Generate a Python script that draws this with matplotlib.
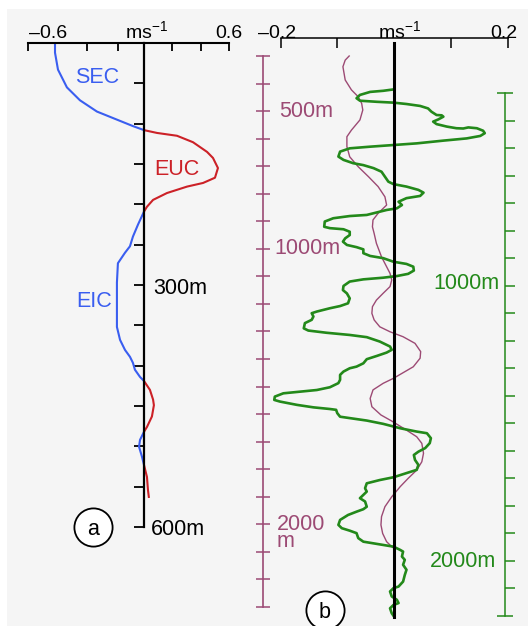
import matplotlib
matplotlib.use("Agg")
import matplotlib.pyplot as plt
from matplotlib.patches import Rectangle

plt.rcParams['font.family'] = ['Liberation Sans', 'DejaVu Sans']
plt.rcParams['mathtext.fontset'] = 'custom'
plt.rcParams['mathtext.rm'] = 'Liberation Sans'
plt.rcParams['mathtext.it'] = 'Liberation Sans:italic'

# ---------------- data ----------------
# (a) upper-ocean equatorial current profile: velocity (m/s) vs depth (m)
sec_v = [-0.628, -0.628, -0.607, -0.544, -0.452, -0.332, -0.191, -0.078, 0.0]
sec_d = [0, 12, 33, 55, 71, 85, 95, 103, 108]

euc_v = [0.0, 0.092, 0.233, 0.346, 0.445, 0.487, 0.522, 0.501, 0.417, 0.304,
         0.162, 0.064, 0.021, 0.0]
euc_d = [108, 111.5, 115, 123, 135, 142.5, 155, 167, 173.5, 178, 186, 194.5, 203, 209]

eic_v = [0.0, -0.042, -0.078, -0.099, -0.134, -0.184, -0.191, -0.191, -0.191,
         -0.169, -0.134, -0.099, -0.078, -0.064, -0.028, 0.0]
eic_d = [209, 225, 240, 252, 260, 273, 297, 318.5, 352, 368, 380.5, 389, 396.5,
         405, 414, 419]

east2_v = [0.0, 0.042, 0.064, 0.070, 0.056, 0.021, 0.0]
east2_d = [419, 430, 442, 449, 463, 476, 482]

west2_v = [0.0, -0.028, -0.035, -0.014, 0.0]
west2_d = [482, 492, 500.5, 513, 523]

east3_v = [0.0, 0.021, 0.028, 0.035]
east3_d = [523, 538, 554, 564]

# (b) deep profiles: velocity (m/s) vs depth (m)
maroon_v = [-0.079, -0.086, -0.090, -0.086, -0.075, -0.063, -0.057, -0.055, -0.060, -0.075,
            -0.083, -0.083, -0.078, -0.063, -0.045, -0.028, -0.016, -0.013, -0.028, -0.037,
            -0.038, -0.035, -0.031, -0.022, -0.013, -0.007, -0.004, -0.007, -0.019, -0.031,
            -0.038, -0.039, -0.035, -0.025, -0.007, 0.016, 0.037, 0.047, 0.046, 0.034,
            0.014, -0.001, -0.019, -0.037, -0.042, -0.039, -0.023, -0.004, 0.022, 0.040,
            0.049, 0.052, 0.049, 0.040, 0.025, 0.011, -0.004, -0.016, -0.022, -0.023,
            -0.020, -0.013, -0.004, 0.0]
maroon_d = [300, 315, 339, 387, 423, 448, 472, 496, 532, 569,
            593, 629, 666, 702, 738, 774, 811, 841, 871, 895,
            920, 944, 980, 1029, 1065, 1089, 1113, 1137, 1161, 1186,
            1210, 1234, 1258, 1283, 1301, 1319, 1343, 1373, 1397, 1428,
            1452, 1470, 1488, 1512, 1543, 1573, 1603, 1625, 1658, 1682,
            1706, 1742, 1773, 1803, 1833, 1863, 1900, 1936, 1972, 2002,
            2033, 2063, 2081, 2087]

green_v = [-0.001, -0.019, -0.042, -0.060, -0.066, -0.060, -0.030, -0.001, 0.022, 0.046,
           0.060, 0.066, 0.075, 0.084, 0.087, 0.078, 0.069, 0.075, 0.093, 0.110,
           0.122, 0.131, 0.146, 0.157, 0.160, 0.152, 0.128, 0.087, 0.040, -0.001,
           -0.042, -0.078, -0.095, -0.098, -0.089, -0.072, -0.054, -0.036, -0.022, -0.016,
           -0.010, -0.001, 0.022, 0.043, 0.052, 0.046, 0.022, 0.008, 0.014, 0.005,
           -0.013, -0.048, -0.078, -0.107, -0.122, -0.123, -0.113, -0.089, -0.078, -0.078,
           -0.086, -0.090, -0.083, -0.066, -0.054, -0.054, -0.042, -0.019, -0.001, 0.022,
           0.034, 0.035, 0.025, 0.005, -0.019, -0.054, -0.078, -0.089, -0.090, -0.083,
           -0.078, -0.081, -0.095, -0.113, -0.136, -0.145, -0.142, -0.145, -0.157, -0.159,
           -0.151, -0.119, -0.078, -0.048, -0.025, -0.007, -0.004, -0.013, -0.030, -0.048,
           -0.054, -0.066, -0.078, -0.089, -0.095, -0.095, -0.098, -0.113, -0.136, -0.166,
           -0.195, -0.210, -0.211, -0.201, -0.171, -0.142, -0.113, -0.102, -0.100, -0.095,
           -0.078, -0.048, -0.019, 0.011, 0.040, 0.058, 0.065, 0.063, 0.055, 0.043,
           0.035, 0.037, 0.043, 0.040, 0.022, -0.001, -0.025, -0.048, -0.051, -0.048,
           -0.054, -0.060, -0.051, -0.048, -0.054, -0.066, -0.081, -0.095, -0.098, -0.092,
           -0.078, -0.066, -0.063, -0.054, -0.036, -0.019, -0.001, 0.011, 0.016, 0.014,
           0.019, 0.016, 0.022, 0.019, 0.016, 0.008, -0.001, -0.007, -0.004, 0.005,
           0.008, -0.001, -0.007, -0.004, 0.0]
green_d = [287, 292, 296, 307, 319, 328, 332, 335, 340, 347,
           356, 368, 380, 381, 386, 396, 404, 413, 422, 428,
           429, 425, 428, 437, 446, 456, 465, 473, 483, 489,
           495, 501, 513, 531, 543, 555, 562, 573, 586, 604,
           622, 631, 640, 652, 662, 674, 682, 695, 707, 719,
           725, 743, 747, 755, 767, 786, 791, 795, 804, 816,
           828, 840, 852, 860, 868, 882, 892, 900, 913, 921,
           931, 945, 957, 965, 971, 977, 985, 1001, 1016, 1028,
           1046, 1064, 1074, 1082, 1094, 1100, 1112, 1124, 1136, 1155,
           1163, 1171, 1179, 1187, 1203, 1221, 1233, 1243, 1255, 1267,
           1282, 1294, 1300, 1312, 1324, 1342, 1354, 1369, 1379, 1385,
           1391, 1403, 1415, 1421, 1433, 1442, 1448, 1451, 1463, 1476,
           1481, 1490, 1502, 1518, 1530, 1536, 1554, 1572, 1590, 1603,
           1615, 1633, 1651, 1669, 1681, 1696, 1706, 1718, 1736, 1748,
           1760, 1772, 1784, 1803, 1812, 1821, 1833, 1851, 1869, 1881,
           1890, 1899, 1917, 1930, 1936, 1942, 1948, 1960, 1966, 1984,
           1996, 2014, 2032, 2051, 2075, 2093, 2099, 2111, 2129, 2141,
           2153, 2160, 2172, 2190, 2202]

a_xticks = [-0.82, -0.40, -0.18, 0.2, 0.4, 0.6]
a_yticks = list(range(0, 601, 50))
b_xticks = [-0.2, -0.1, 0.1, 0.2]
maroon_ticks = list(range(300, 2301, 100))
green_ticks = list(range(400, 2101, 100))
green_caps = [300, 2200]

# ---------------- styling ----------------
BLUE = '#3a5ef0'
RED = '#cc2127'
MAROON = '#9c4a74'
GREEN = '#23891a'
BG = '#f5f5f5'
LABEL_SIZE = 15.5
TICK_SIZE = 14

W, H = 528, 626
fig = plt.figure(figsize=(W / 100, H / 100), dpi=100)
fig.patch.set_facecolor('white')
fig.patches.append(Rectangle((7 / W, 0), 1 - 7 / W, 1 - 9 / H,
                             transform=fig.transFigure, fc=BG, ec='none', zorder=-10))


def axes_px(x0, y0, x1, y1):
    """Add an axes whose box spans the given pixel rectangle (origin top-left)."""
    ax = fig.add_axes([x0 / W, 1 - y1 / H, (x1 - x0) / W, (y1 - y0) / H])
    ax.patch.set_visible(False)
    return ax


def label(px, py, s, color='black', size=LABEL_SIZE, ha='left', va='baseline', **kw):
    fig.text(px / W, 1 - py / H, s, color=color, fontsize=size, ha=ha, va=va, **kw)


# ---------------- panel (a) ----------------
ax_a = axes_px(27.8, 43, 229, 527)
ax_a.set_xlim(-0.82, 0.6)
ax_a.set_ylim(600, 0)
for sp in ('right', 'bottom'):
    ax_a.spines[sp].set_visible(False)
ax_a.spines['left'].set_position(('data', 0))
ax_a.spines['left'].set_linewidth(1.6)
ax_a.spines['top'].set_linewidth(1.5)
ax_a.xaxis.tick_top()
ax_a.set_xticks(a_xticks)
ax_a.set_yticks(a_yticks)
ax_a.tick_params(axis='x', direction='in', length=6, width=1.3, labeltop=False, labelbottom=False)
ax_a.tick_params(axis='y', direction='out', length=7, width=1.3, labelleft=False)

for v, d, c in [(sec_v, sec_d, BLUE), (euc_v, euc_d, RED), (eic_v, eic_d, BLUE),
                (east2_v, east2_d, RED), (west2_v, west2_d, BLUE), (east3_v, east3_d, RED)]:
    ax_a.plot(v, d, color=c, lw=1.5, clip_on=False, solid_capstyle='butt')

label(97, 82.7, 'SEC', BLUE, ha='center')
label(176.7, 175, 'EUC', RED, ha='center')
label(94, 307.3, 'EIC', BLUE, ha='center')
label(153, 294, '300m')
label(151, 535, '600m')
label(48, 38.3, '\u20130.6', size=TICK_SIZE, ha='center')
label(229, 38.3, '0.6', size=TICK_SIZE, ha='center')
label(147, 38.3, r'ms$^{\mathregular{-1}}$', size=TICK_SIZE, ha='center')

# ---------------- panel (b) ----------------
ax_b = axes_px(280.5, 56, 507.5, 607)
ax_b.set_xlim(-0.2, 0.2)
ax_b.set_ylim(2300, 300)
for sp in ('right', 'bottom'):
    ax_b.spines[sp].set_visible(False)
ax_b.spines['top'].set_position(('outward', 13))
ax_b.spines['top'].set_linewidth(1.1)
ax_b.spines['left'].set_position(('outward', 12.5))
ax_b.spines['left'].set_color(MAROON)
ax_b.spines['left'].set_linewidth(1.2)
ax_b.xaxis.tick_top()
ax_b.set_xticks(b_xticks)
ax_b.set_yticks(maroon_ticks)
ax_b.tick_params(axis='x', direction='in', length=7, width=1.1, labeltop=False, labelbottom=False)
ax_b.tick_params(axis='y', direction='inout', length=10, width=1.1, color=MAROON, labelleft=False)

ax_b.plot(maroon_v, maroon_d, color=MAROON, lw=1.0, clip_on=False)

ax_g = axes_px(280.5, 93, 507.5, 616)
ax_g.set_xlim(-0.2, 0.2)
ax_g.set_ylim(2200, 300)
for sp in ('left', 'top', 'bottom'):
    ax_g.spines[sp].set_visible(False)
ax_g.spines['right'].set_position(('outward', -1.5))
ax_g.spines['right'].set_color(GREEN)
ax_g.spines['right'].set_linewidth(1.1)
ax_g.set_xticks([])
ax_g.yaxis.tick_right()
ax_g.set_yticks(green_ticks)
ax_g.set_yticks(green_caps, minor=True)
ax_g.tick_params(axis='y', which='major', direction='out', length=7, width=1.1, color=GREEN,
                 labelright=False, labelleft=False)
ax_g.tick_params(axis='y', which='minor', direction='inout', length=12, width=1.1, color=GREEN,
                 labelright=False, labelleft=False)

ax_g.plot(green_v, green_d, color=GREEN, lw=1.9, clip_on=False, zorder=3,
          solid_joinstyle='round')

# zero-velocity reference line for panel (b), from the velocity axis to the bottom
top_frac = (616 - 43) / (616 - 93)
bot_frac = (616 - 617) / (616 - 93)
ax_g.axvline(0, ymin=bot_frac, ymax=top_frac, color='black', lw=2.2, clip_on=False, zorder=4)

label(277, 38.3, '\u20130.2', size=TICK_SIZE, ha='center')
label(504, 38.3, '0.2', size=TICK_SIZE, ha='center')
label(400, 38.3, r'ms$^{\mathregular{-1}}$', size=TICK_SIZE, ha='center')
label(279, 116.7, '500m', MAROON)
label(274, 254, '1000m', MAROON)
label(277, 546.7, '2000\nm', MAROON, linespacing=0.72)
label(433, 289.3, '1000m', GREEN)
label(430, 567.3, '2000m', GREEN)

# panel tags
for (cx, cy, tag) in [(93.3, 527, 'a'), (325, 610, 'b')]:
    fig.lines.append(plt.Line2D([cx / W], [1 - cy / H], transform=fig.transFigure,
                                marker='o', ms=27.5, mfc='white', mec='black', mew=1.3, ls='none'))
    fig.text(cx / W, 1 - cy / H, tag, fontsize=LABEL_SIZE, ha='center', va='center_baseline')

fig.savefig('out.png', dpi=100, facecolor=fig.get_facecolor())
